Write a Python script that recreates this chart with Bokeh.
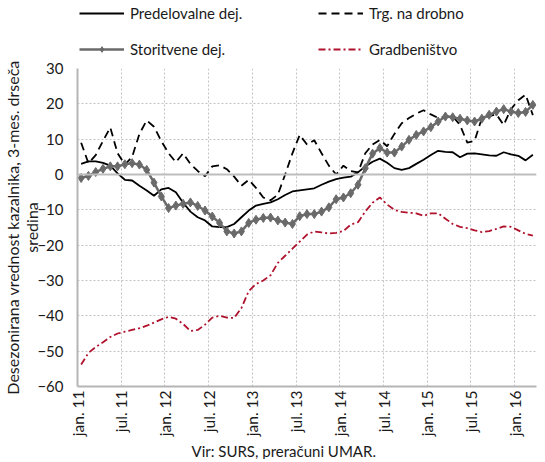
import numpy as np
from bokeh.plotting import figure
from bokeh.layouts import column
from bokeh.models import Range1d, FixedTicker, Legend, LegendItem, Span, Title
from bokeh.embed import file_html
from bokeh.resources import INLINE

# monthly data, jan 2011 .. mar 2016
months = list(range(63))
predelovalne = [3.0, 3.7, 3.7, 3.3, 2.5, 0.3, -1.5, -1.7, -3.2, -4.5,
                -6.0, -4.2, -3.8, -5.0, -8.0, -10.5, -12.1, -13.0, -14.7, -14.9,
                -14.9, -14.0, -12.1, -10.2, -8.8, -8.3, -7.9, -7.0, -5.8, -4.8,
                -4.5, -4.2, -3.9, -2.9, -2.0, -1.3, -0.9, -0.6, 0.6, 2.3,
                3.6, 4.5, 3.3, 1.8, 1.3, 1.8, 3.0, 4.2, 5.5, 6.7,
                6.4, 6.3, 4.9, 5.9, 6.0, 5.7, 5.4, 5.3, 6.3, 5.7,
                5.3, 4.0, 5.6]
trgovina = [9.0, 3.2, 5.5, 9.5, 13.3, 6.0, 2.8, 5.0, 11.5, 15.3,
            13.5, 9.5, 6.0, 3.5, 6.0, 3.0, 1.0, -0.5, 2.3, 2.6,
            1.5, -0.6, -3.2, -1.5, -3.8, -6.5, -7.3, -5.7, 0.0, 6.0,
            11.2, 8.5, 9.7, 6.0, 2.5, 0.0, 2.5, 1.0, 0.6, 6.0,
            8.5, 9.8, 8.0, 11.5, 14.5, 16.0, 17.2, 18.2, 17.0, 16.0,
            16.3, 16.5, 14.0, 9.0, 9.5, 16.0, 16.5, 17.0, 14.0, 18.5,
            21.0, 22.6, 16.8]
storitvene = [-1.0, -0.4, 0.7, 1.6, 2.3, 2.3, 2.9, 3.2, 2.8, 1.3,
              -2.3, -6.2, -9.5, -8.8, -8.3, -7.9, -8.9, -10.2, -11.9, -13.7,
              -16.1, -16.7, -16.1, -13.7, -12.8, -12.3, -12.2, -13.0, -13.6, -14.0,
              -11.8, -11.2, -11.2, -10.5, -9.3, -7.0, -6.5, -5.3, -2.9, 1.8,
              5.9, 7.5, 6.2, 6.2, 7.9, 9.8, 11.2, 12.2, 13.4, 15.0,
              16.4, 16.2, 15.8, 15.3, 15.0, 15.8, 16.9, 17.8, 18.5, 17.8,
              17.4, 17.7, 19.7]
gradbenistvo = [-53.8, -50.5, -48.8, -47.5, -46.0, -45.0, -44.5, -44.0, -43.5, -42.8,
                -41.9, -41.0, -40.3, -40.8, -42.3, -44.3, -44.0, -42.5, -40.5, -40.0,
                -40.5, -40.6, -37.8, -33.0, -31.0, -30.0, -28.5, -25.0, -23.0, -21.0,
                -19.0, -17.0, -16.1, -16.4, -16.7, -16.5, -16.0, -14.2, -13.5, -10.5,
                -8.0, -6.5, -8.5, -10.0, -10.6, -10.8, -11.0, -11.7, -11.0, -11.0,
                -12.5, -14.0, -14.8, -15.2, -15.8, -16.3, -16.0, -15.4, -14.7, -14.8,
                -15.8, -16.8, -17.3]
tick_positions = [0, 6, 12, 18, 24, 30, 36, 42, 48, 54, 60]
tick_labels = ["jan. 11", "jul. 11", "jan. 12", "jul. 12", "jan. 13", "jul. 13",
               "jan. 14", "jul. 14", "jan. 15", "jul. 15", "jan. 16"]
y_ticks = [-60, -50, -40, -30, -20, -10, 0, 10, 20, 30]
series_names = ["Predelovalne dej.", "Trg. na drobno", "Storitvene dej.", "Gradbeništvo"]
series_values = [predelovalne, trgovina, storitvene, gradbenistvo]

FONT = "Lato"
FS = "15px"
GRID = "#c4c4c4"
AX = "#b5b5b5"
RED = "#b0122c"
GRAY = "#6a6a6a"

STYLES = [
    dict(line_color="black", line_width=1.8),
    dict(line_color="black", line_width=1.8, line_dash="8 5"),
    dict(line_color=GRAY, line_width=2.5),
    dict(line_color=RED, line_width=1.8, line_dash="7 3 2 3"),
]

x = [m + 0.5 for m in months]

# ---------------- legend strip (series drawn off-range, only legend shows) ----------------
LH = 58
lg = figure(width=537, height=LH, output_backend="svg", toolbar_location=None,
            x_range=Range1d(0, 63), y_range=Range1d(900, 901), min_border=0,
            x_axis_location=None, y_axis_location=None)
lg.grid.visible = False
lg.outline_line_color = None
lr = [lg.line(x, v, **s) for v, s in zip(series_values, STYLES)]
lm = lg.scatter(x, storitvene, marker="diamond", size=8, fill_color=GRAY, line_color=GRAY)
legend = Legend(items=[
    LegendItem(label=series_names[0], renderers=[lr[0]]),
    LegendItem(label=series_names[1], renderers=[lr[1]]),
    LegendItem(label=series_names[2], renderers=[lr[2], lm]),
    LegendItem(label=series_names[3], renderers=[lr[3]]),
], location=(2, 0), orientation="horizontal", ncols=2)
legend.glyph_width = 45
legend.glyph_height = 14
legend.label_height = 14
legend.label_width = 170
legend.label_standoff = 6
legend.spacing = 18
legend.padding = 0
legend.margin = 0
legend.label_text_font = FONT
legend.label_text_font_size = FS
legend.label_text_color = "#1a1a1a"
legend.background_fill_alpha = 0
legend.border_line_color = None
lg.add_layout(legend, "center")

# ---------------- main chart ----------------
p = figure(frame_width=459, frame_height=318, output_backend="svg", toolbar_location=None,
           x_range=Range1d(0, 63), y_range=Range1d(-60, 30),
           min_border_left=75, min_border_right=3, min_border_top=10, min_border_bottom=60)
p.outline_line_color = None
p.background_fill_color = "white"

for ax in (p.xaxis[0], p.yaxis[0]):
    ax.axis_line_color = AX
    ax.axis_line_width = 2
    ax.major_tick_line_color = None
    ax.minor_tick_line_color = None
    ax.major_tick_out = 0
    ax.major_tick_in = 0
    ax.minor_tick_out = 0
    ax.minor_tick_in = 0
    ax.major_label_text_font = FONT
    ax.major_label_text_font_size = FS
    ax.major_label_text_color = "#1a1a1a"
    ax.axis_label_text_font = FONT
    ax.axis_label_text_font_size = FS
    ax.axis_label_text_font_style = "normal"
    ax.axis_label_text_color = "#1a1a1a"

p.xaxis.ticker = FixedTicker(ticks=tick_positions)
p.xaxis.major_label_overrides = {t: l for t, l in zip(tick_positions, tick_labels)}
p.xaxis.major_label_orientation = np.pi / 2
p.xaxis.major_label_standoff = 4
p.xaxis.major_label_text_font_size = "15.5px"

p.yaxis.ticker = FixedTicker(ticks=y_ticks)
p.yaxis.major_label_standoff = 14
p.yaxis.axis_label = "Desezonirana vrednost kazalnika, 3-mes. drseča\nsredina"
p.yaxis.axis_label_text_font_size = "16px"
p.yaxis.axis_label_standoff = -7
p.yaxis.axis_label_text_line_height = 1.0

p.xgrid.ticker = FixedTicker(ticks=tick_positions)
p.ygrid.ticker = FixedTicker(ticks=y_ticks)
for g in (p.xgrid[0], p.ygrid[0]):
    g.grid_line_color = GRID
    g.grid_line_dash = "2 2"
    g.grid_line_width = 1

p.add_layout(Span(location=0, dimension="width", line_color="#bdbdbd", line_width=2))

p.line(x, predelovalne, **STYLES[0])
p.line(x, trgovina, **STYLES[1])
p.line(x, gradbenistvo, **STYLES[3])
p.line(x, storitvene, **STYLES[2])
p.scatter(x, storitvene, marker="diamond", size=9, fill_color=GRAY, line_color=GRAY)

cap = Title(text="Vir: SURS, preračuni UMAR.", align="left", offset=114,
            text_font=FONT, text_font_size=FS, text_font_style="normal",
            text_color="#1a1a1a", standoff=0)
p.add_layout(cap, "below")

layout = column(lg, p, spacing=0)
open("out.html", "w").write(file_html(layout, INLINE))
